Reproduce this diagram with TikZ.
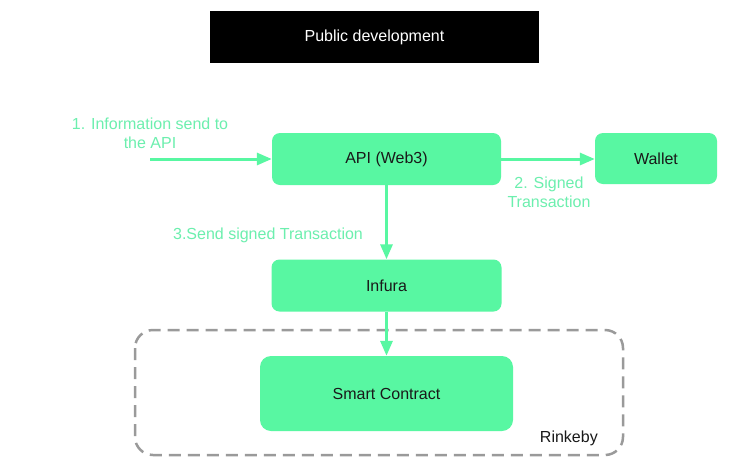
\documentclass[tikz,border=0pt]{standalone}
\usepackage{fontspec}
\setmainfont{Liberation Sans}
\usetikzlibrary{arrows.meta}
\definecolor{boxgreen}{HTML}{58F7A2}
\definecolor{lblgreen}{HTML}{6CEFAE}
\definecolor{dashgray}{HTML}{9A9A9A}
\begin{document}
\begin{tikzpicture}[x=1pt,y=-1pt,
  every node/.style={font=\fontsize{16}{19}\selectfont, inner sep=0pt},
  gbox/.style={fill=boxgreen, draw=none, rounded corners=8pt, text=black!90},
  lbl/.style={text=lblgreen, align=center},
  conn/.style={draw=boxgreen, line width=3pt, -{Triangle[length=15pt,width=12pt]}}]
\useasboundingbox[fill=white] (0,0) rectangle (729,464);
% title
\node[fill=black, text=white, minimum width=329pt, minimum height=52pt] (title) at (374.5,37) {Public development};
% dashed region
\draw[dashgray, line width=2.5pt, dash pattern=on 12pt off 7pt, rounded corners=18pt] (135,330) rectangle (623,455);
\node[anchor=east, text=black!90] (rinkeby) at (598,438) {Rinkeby};
% boxes
\node[gbox, minimum width=229pt, minimum height=52pt] (api) at (386.5,159) {API (Web3)};
\node[gbox, minimum width=122pt, minimum height=51pt] (wallet) at (656,158.5) {Wallet};
\node[gbox, minimum width=230pt, minimum height=52pt] (infura) at (386.5,285.5) {Infura};
\node[gbox, minimum width=253pt, minimum height=75pt, rounded corners=11pt] (smart) at (386.5,393.5) {Smart Contract};
% connectors
\coordinate (start) at (150,159);
\draw[conn] (start) -- (api.west);
\draw[conn] (api.east) -- (wallet.west |- api.east);
\draw[conn] (api.south) -- (infura.north);
\draw[conn] (infura.south) -- (smart.north);
% labels
\node[lbl] (l1) at (150,133) {1. Information send to\\the API};
\node[lbl] (l2) at (549,192.5) {2. Signed\\Transaction};
\node[lbl] (l3) at (268,235.5) {3.Send signed Transaction};
\end{tikzpicture}
\end{document}
